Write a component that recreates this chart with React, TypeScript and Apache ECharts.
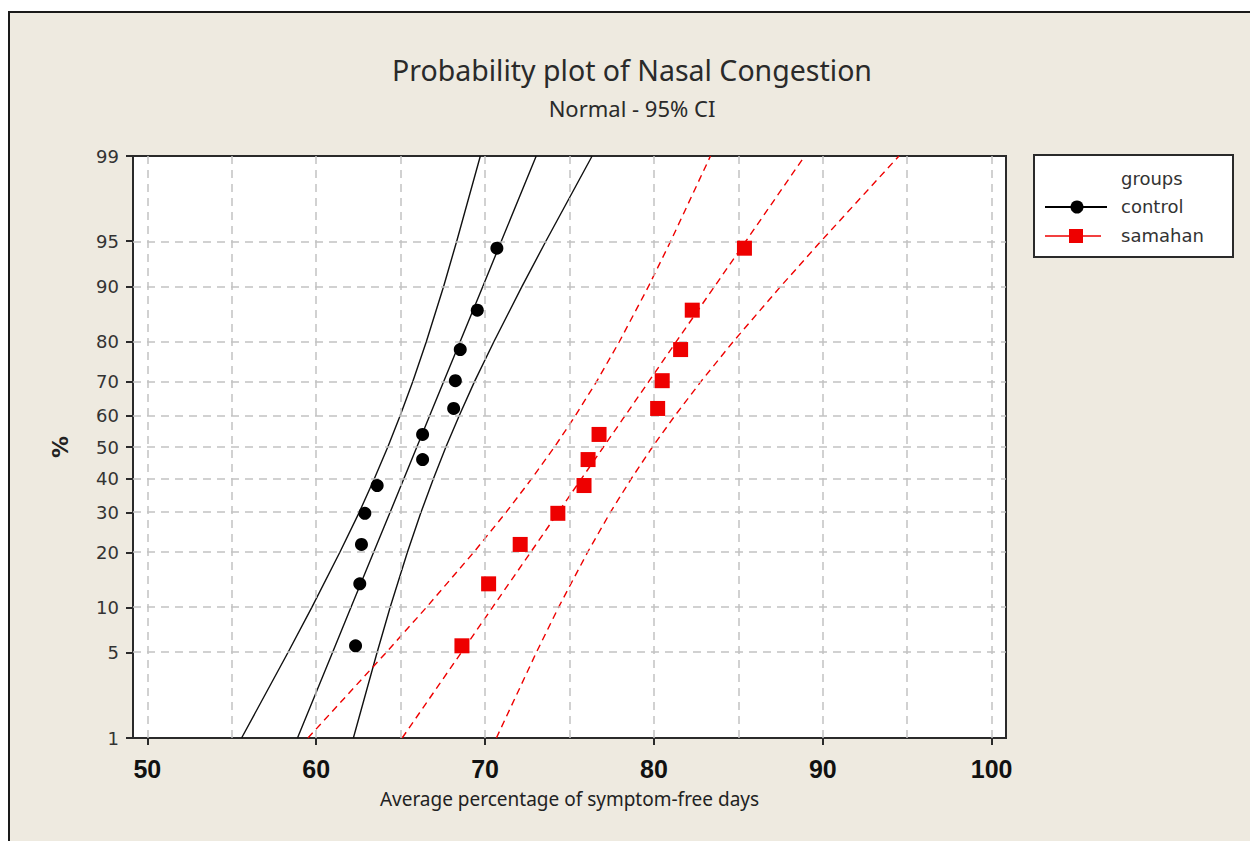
import React, { useEffect, useRef } from "react";
import * as echarts from "echarts";

// ---- data ----
const percentTicks = [1, 5, 10, 20, 30, 40, 50, 60, 70, 80, 90, 95, 99];
const xTickValues = [50, 60, 70, 80, 90, 100];
const xGridValues = [50, 55, 60, 65, 70, 75, 80, 85, 90, 95, 100];

// plotting positions (percent) of the 12 ranked observations
const plotPercent = [5.6, 13.7, 21.8, 29.8, 37.9, 46.0, 54.0, 62.1, 70.2, 78.2, 86.3, 94.4];
const controlValues = [62.33, 62.58, 62.68, 62.88, 63.61, 66.3, 66.3, 68.14, 68.24, 68.53, 69.54, 70.7];
const samahanValues = [68.63, 70.21, 72.08, 74.31, 75.86, 76.1, 76.75, 80.22, 80.49, 81.58, 82.27, 85.36];

// fitted lines and 95% CI bands read at each percent tick
const linePercent = [1, 5, 10, 20, 30, 40, 50, 60, 70, 80, 90, 95, 99];
const controlFit = [58.89, 60.96, 62.06, 63.4, 64.37, 65.19, 65.96, 66.73, 67.55, 68.52, 69.86, 70.96, 73.03];
const controlLower = [55.58, 58.32, 59.74, 61.4, 62.54, 63.44, 64.24, 64.98, 65.72, 66.52, 67.54, 68.32, 69.72];
const controlUpper = [62.2, 63.6, 64.38, 65.4, 66.2, 66.94, 67.68, 68.48, 69.38, 70.52, 72.18, 73.6, 76.34];
const samahanFit = [65.09, 68.58, 70.44, 72.7, 74.32, 75.71, 77.01, 78.31, 79.7, 81.32, 83.58, 85.44, 88.93];
const samahanLower = [59.51, 64.13, 66.53, 69.33, 71.23, 72.76, 74.11, 75.36, 76.61, 77.95, 79.67, 80.99, 83.35];
const samahanUpper = [70.67, 73.03, 74.35, 76.07, 77.41, 78.66, 79.91, 81.26, 82.79, 84.69, 87.49, 89.89, 94.51];

// normal probability scale (inverse normal CDF)
function probit(p: number): number {
  const a = [-39.69683028665376, 220.9460984245205, -275.9285104469687, 138.357751867269, -30.66479806614716, 2.506628277459239];
  const b = [-54.47609879822406, 161.5858368580409, -155.6989798598866, 66.80131188771972, -13.28068155288572];
  const c = [-0.007784894002430293, -0.3223964580411365, -2.400758277161838, -2.549671419524024, 4.374664141464968, 2.938163982698783];
  const d = [0.007784695709041462, 0.3224671290700398, 2.445134137142996, 3.754408661907416];
  const plow = 0.02425;
  const phigh = 1 - plow;
  let q: number, r: number;
  if (p < plow) {
    q = Math.sqrt(-2 * Math.log(p));
    return (((((c[0] * q + c[1]) * q + c[2]) * q + c[3]) * q + c[4]) * q + c[5]) / ((((d[0] * q + d[1]) * q + d[2]) * q + d[3]) * q + 1);
  }
  if (p <= phigh) {
    q = p - 0.5;
    r = q * q;
    return ((((((a[0] * r + a[1]) * r + a[2]) * r + a[3]) * r + a[4]) * r + a[5]) * q) / (((((b[0] * r + b[1]) * r + b[2]) * r + b[3]) * r + b[4]) * r + 1);
  }
  q = Math.sqrt(-2 * Math.log(1 - p));
  return -(((((c[0] * q + c[1]) * q + c[2]) * q + c[3]) * q + c[4]) * q + c[5]) / ((((d[0] * q + d[1]) * q + d[2]) * q + d[3]) * q + 1);
}

const pz = (pct: number) => probit(pct / 100);
const pairs = (xs: number[], ps: number[]) => xs.map((x, i) => [x, pz(ps[i])]);

const RED = "#ee0000";

export default function App() {
  const ref = useRef<HTMLDivElement>(null);

  useEffect(() => {
    if (!ref.current) return;
    const chart = echarts.init(ref.current, null, { renderer: "svg" });
    const yTickZ = percentTicks.map(pz);
    const yMin = pz(1);
    const yMax = pz(99);

    const blackLine = { color: "#111", width: 1.4, type: "solid" as const };
    const redLine = { color: RED, width: 1.4, type: [7, 5] as any };

    const option: any = {
      animation: false,
      backgroundColor: "#EEEAE0",
      grid: {
        left: 133,
        top: 156,
        width: 873,
        height: 582,
        show: true,
        backgroundColor: "#ffffff",
        borderColor: "#2a2a2a",
        borderWidth: 2,
      },
      xAxis: {
        type: "value",
        min: 49.15,
        max: 100.85,
        axisLine: { show: false, onZero: false },
        splitLine: { show: false },
        axisTick: {
          show: true,
          customValues: xTickValues,
          length: 7,
          lineStyle: { color: "#2a2a2a", width: 2 },
        },
        axisLabel: {
          customValues: xTickValues,
          fontFamily: "Liberation Sans",
          fontWeight: "bold",
          fontSize: 25,
          color: "#111",
          margin: 18,
        },
        name: "Average percentage of symptom-free days",
        nameLocation: "middle",
        nameGap: 51,
        nameTextStyle: { fontFamily: "Noto Sans", fontSize: 19, color: "#222" },
      },
      yAxis: {
        type: "value",
        min: yMin,
        max: yMax,
        axisLine: { show: false, onZero: false },
        splitLine: { show: false },
        axisTick: {
          show: true,
          customValues: yTickZ,
          length: 7,
          lineStyle: { color: "#2a2a2a", width: 2 },
        },
        axisLabel: {
          customValues: yTickZ,
          fontFamily: "DejaVu Sans",
          fontSize: 18,
          color: "#333",
          margin: 14,
          formatter: (v: number) => {
            let best = percentTicks[0];
            let bd = Infinity;
            percentTicks.forEach((p) => {
              const dd = Math.abs(pz(p) - v);
              if (dd < bd) {
                bd = dd;
                best = p;
              }
            });
            return String(best);
          },
        },
        name: "%",
        nameLocation: "middle",
        nameGap: 62,
        nameRotate: 90,
        nameTextStyle: { fontFamily: "DejaVu Sans", fontWeight: "bold", fontSize: 22, color: "#222" },
      },
      series: [
        {
          name: "grid",
          type: "scatter",
          data: [],
          z: 1,
          silent: true,
          markLine: {
            silent: true,
            symbol: ["none", "none"],
            label: { show: false },
            lineStyle: { color: "#c2c2c2", width: 1.5, type: [8, 6] },
            data: [
              ...xGridValues.map((v) => ({ xAxis: v })),
              ...yTickZ.map((v) => ({ yAxis: v })),
            ],
          },
        },
        { name: "control lower", type: "line", z: 3, symbol: "none", silent: true, lineStyle: blackLine, data: pairs(controlLower, linePercent) },
        { name: "control fit", type: "line", z: 3, symbol: "none", silent: true, lineStyle: blackLine, data: pairs(controlFit, linePercent) },
        { name: "control upper", type: "line", z: 3, symbol: "none", silent: true, lineStyle: blackLine, data: pairs(controlUpper, linePercent) },
        { name: "samahan lower", type: "line", z: 3, symbol: "none", silent: true, lineStyle: redLine, data: pairs(samahanLower, linePercent) },
        { name: "samahan fit", type: "line", z: 3, symbol: "none", silent: true, lineStyle: redLine, data: pairs(samahanFit, linePercent) },
        { name: "samahan upper", type: "line", z: 3, symbol: "none", silent: true, lineStyle: redLine, data: pairs(samahanUpper, linePercent) },
        {
          name: "control",
          type: "scatter",
          z: 5,
          symbol: "circle",
          symbolSize: 13,
          itemStyle: { color: "#000", opacity: 1 },
          data: pairs(controlValues, plotPercent),
        },
        {
          name: "samahan",
          type: "scatter",
          z: 5,
          symbol: "rect",
          symbolSize: 15,
          itemStyle: { color: RED, opacity: 1 },
          data: pairs(samahanValues, plotPercent),
        },
      ],
      graphic: [
        // white margin and frame of the panel
        { type: "rect", shape: { x: 0, y: 0, width: 1250, height: 11 }, style: { fill: "#ffffff" }, silent: true },
        { type: "rect", shape: { x: 0, y: 0, width: 8, height: 841 }, style: { fill: "#ffffff" }, silent: true },
        { type: "line", shape: { x1: 8, y1: 12, x2: 1250, y2: 12 }, style: { stroke: "#1a1a1a", lineWidth: 2 }, silent: true },
        { type: "line", shape: { x1: 9, y1: 11, x2: 9, y2: 841 }, style: { stroke: "#1a1a1a", lineWidth: 2 }, silent: true },
        // titles
        {
          type: "text",
          x: 632,
          y: 70,
          style: { text: "Probability plot of Nasal Congestion", fill: "#2a2a2a", fontFamily: "Noto Sans", fontSize: 28.5, align: "center", verticalAlign: "middle" },
        },
        {
          type: "text",
          x: 632,
          y: 108,
          style: { text: "Normal - 95% CI", fill: "#2a2a2a", fontFamily: "Noto Sans", fontSize: 22, align: "center", verticalAlign: "middle" },
        },
        // legend box
        { type: "rect", shape: { x: 1034, y: 155, width: 199, height: 102 }, style: { fill: "#ffffff", stroke: "#2a2a2a", lineWidth: 2 } },
        { type: "text", x: 1121, y: 178, style: { text: "groups", fill: "#333", fontFamily: "DejaVu Sans", fontSize: 18, align: "left", verticalAlign: "middle" } },
        { type: "line", shape: { x1: 1045, y1: 207, x2: 1107, y2: 207 }, style: { stroke: "#000", lineWidth: 2 } },
        { type: "circle", shape: { cx: 1077, cy: 207, r: 6.5 }, style: { fill: "#000" } },
        { type: "text", x: 1121, y: 206, style: { text: "control", fill: "#333", fontFamily: "DejaVu Sans", fontSize: 18, align: "left", verticalAlign: "middle" } },
        { type: "line", shape: { x1: 1045, y1: 236, x2: 1101, y2: 236 }, style: { stroke: RED, lineWidth: 1.5 } },
        { type: "rect", shape: { x: 1069, y: 229, width: 14, height: 14 }, style: { fill: RED } },
        { type: "text", x: 1121, y: 235, style: { text: "samahan", fill: "#333", fontFamily: "DejaVu Sans", fontSize: 18, align: "left", verticalAlign: "middle" } },
      ],
    };

    chart.setOption(option);
    return () => chart.dispose();
  }, []);

  return <div ref={ref} style={{ position: "absolute", left: 0, top: 0, width: 1250, height: 841 }} />;
}
